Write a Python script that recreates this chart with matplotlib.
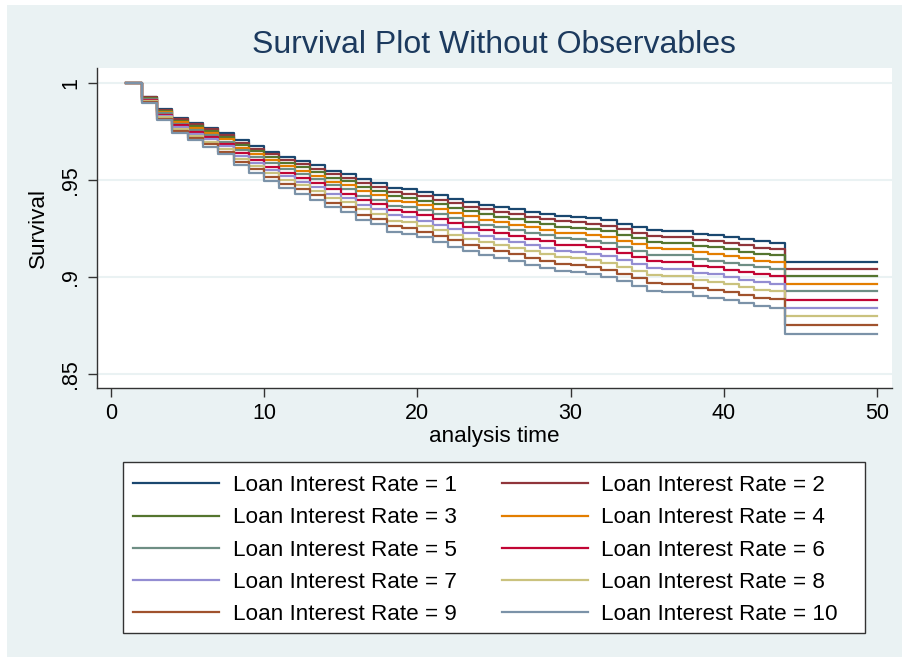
import matplotlib
matplotlib.use("Agg")
import matplotlib.pyplot as plt
from matplotlib.patches import Rectangle

plt.rcParams['font.family'] = ['Liberation Sans', 'DejaVu Sans']

# analysis time of each step (the last point only carries the flat tail to 50)
analysis_time = [1, 2, 3, 4, 5, 6, 7, 8, 9, 10,
                 11, 12, 13, 14, 15, 16, 17, 18, 19, 20,
                 21, 22, 23, 24, 25, 26, 27, 28, 29, 30,
                 31, 32, 33, 34, 35, 36, 37, 38, 39, 40,
                 41, 42, 43, 44, 50]

# survival, one list per loan interest rate
rate_1 = [1.0, .9928, .9866, .9821, .9794, .9770, .9742, .9704, .9674, .9646,
          .9619, .9598, .9576, .9548, .9531, .9503, .9486, .9459, .9452, .9438,
          .9421, .9404, .9387, .9373, .9362, .9350, .9337, .9326, .9313, .9310,
          .9302, .9292, .9275, .9258, .9241, .9237, .9237, .9222, .9215, .9205,
          .9194, .9184, .9177, .9077, .9077]
rate_2 = [1.0, .9925, .9861, .9814, .9786, .9761, .9732, .9692, .9661, .9632,
          .9604, .9582, .9559, .9530, .9512, .9483, .9466, .9438, .9430, .9416,
          .9398, .9380, .9363, .9348, .9337, .9325, .9311, .9300, .9286, .9283,
          .9275, .9264, .9247, .9229, .9211, .9207, .9207, .9192, .9184, .9174,
          .9163, .9152, .9145, .9041, .9041]
rate_3 = [1.0, .9922, .9855, .9806, .9777, .9751, .9721, .9680, .9647, .9617,
          .9588, .9565, .9542, .9511, .9493, .9463, .9444, .9415, .9408, .9393,
          .9374, .9356, .9338, .9323, .9311, .9298, .9284, .9272, .9258, .9255,
          .9246, .9235, .9217, .9199, .9180, .9176, .9176, .9160, .9153, .9142,
          .9130, .9119, .9112, .9004, .9004]
rate_4 = [1.0, .9919, .9849, .9798, .9768, .9741, .9710, .9667, .9633, .9602,
          .9572, .9548, .9523, .9492, .9473, .9441, .9422, .9392, .9384, .9369,
          .9350, .9331, .9312, .9296, .9284, .9270, .9256, .9243, .9229, .9226,
          .9217, .9206, .9186, .9168, .9149, .9144, .9144, .9127, .9120, .9108,
          .9096, .9085, .9077, .8966, .8966]
rate_5 = [1.0, .9916, .9843, .9790, .9759, .9731, .9698, .9654, .9619, .9586,
          .9554, .9530, .9504, .9472, .9452, .9419, .9399, .9368, .9360, .9344,
          .9324, .9304, .9284, .9268, .9256, .9242, .9227, .9214, .9199, .9195,
          .9186, .9174, .9155, .9135, .9115, .9111, .9111, .9093, .9085, .9074,
          .9061, .9049, .9041, .8926, .8926]
rate_6 = [1.0, .9912, .9837, .9782, .9749, .9720, .9686, .9640, .9603, .9569,
          .9537, .9511, .9485, .9451, .9430, .9396, .9376, .9343, .9335, .9318,
          .9298, .9277, .9256, .9240, .9226, .9212, .9196, .9183, .9167, .9164,
          .9154, .9142, .9122, .9101, .9081, .9076, .9076, .9058, .9050, .9038,
          .9025, .9013, .9004, .8884, .8884]
rate_7 = [1.0, .9909, .9830, .9773, .9739, .9709, .9673, .9625, .9587, .9552,
          .9518, .9492, .9464, .9429, .9408, .9372, .9351, .9317, .9309, .9291,
          .9270, .9249, .9227, .9210, .9196, .9181, .9165, .9151, .9135, .9131,
          .9121, .9109, .9088, .9066, .9045, .9040, .9040, .9022, .9013, .9001,
          .8987, .8975, .8966, .8842, .8842]
rate_8 = [1.0, .9905, .9823, .9764, .9728, .9697, .9660, .9610, .9571, .9534,
          .9499, .9472, .9443, .9406, .9384, .9348, .9326, .9291, .9281, .9263,
          .9241, .9219, .9197, .9179, .9165, .9149, .9132, .9118, .9101, .9097,
          .9087, .9074, .9052, .9030, .9008, .9003, .9003, .8984, .8975, .8962,
          .8948, .8935, .8926, .8797, .8797]
rate_9 = [1.0, .9901, .9816, .9754, .9717, .9685, .9646, .9595, .9554, .9516,
          .9479, .9451, .9421, .9383, .9360, .9322, .9299, .9263, .9253, .9234,
          .9212, .9189, .9166, .9147, .9132, .9116, .9099, .9084, .9066, .9062,
          .9052, .9038, .9016, .8993, .8970, .8965, .8965, .8945, .8935, .8922,
          .8907, .8894, .8885, .8751, .8751]
rate_10 = [1.0, .9897, .9808, .9744, .9706, .9672, .9632, .9578, .9536, .9497,
           .9459, .9429, .9398, .9359, .9335, .9295, .9272, .9234, .9224, .9204,
           .9181, .9157, .9133, .9114, .9098, .9082, .9064, .9048, .9030, .9026,
           .9015, .9001, .8977, .8954, .8930, .8925, .8925, .8904, .8894, .8881,
           .8865, .8852, .8842, .8704, .8704]

curves = [rate_1, rate_2, rate_3, rate_4, rate_5,
          rate_6, rate_7, rate_8, rate_9, rate_10]
labels = ["Loan Interest Rate = %d" % k for k in range(1, 11)]

# stata s2color palette
colors = ['#1a476f', '#90353b', '#55752f', '#e37e00', '#6e8e84',
          '#c10534', '#938dd2', '#cac27e', '#a0522d', '#7b92a8']

bg = '#eaf2f3'
W, H = 902, 661

fig = plt.figure(figsize=(9.02, 6.61), dpi=100)
fig.patches.append(Rectangle((7 / W, 4 / H), 1, 652 / H,
                             transform=fig.transFigure, facecolor=bg,
                             edgecolor='none', zorder=-10))

ax = fig.add_axes([97 / W, 273 / H, 795 / W, 320 / H])
ax.set_facecolor('white')

lines = []
for surv, c, lab in zip(curves, colors, labels):
    ln, = ax.plot(analysis_time, surv, drawstyle='steps-post', color=c,
                  lw=1.6, label=lab)
    lines.append(ln)

ax.set_xlim(-0.91, 50.98)
ax.set_ylim(0.8428, 1.0077)
ax.set_xticks([0, 10, 20, 30, 40, 50])
ax.set_yticks([0.85, 0.9, 0.95, 1.0])
ax.set_yticklabels(['.85', '.9', '.95', '1'], rotation=90, va='center')
ax.tick_params(axis='both', labelsize=15.5, color='#333333', length=6.5,
               width=1)
ax.tick_params(axis='x', pad=4)
ax.tick_params(axis='y', pad=5)
ax.grid(axis='y', color=bg, lw=1.5)
ax.set_axisbelow(True)

for side in ['top', 'right']:
    ax.spines[side].set_visible(False)
for side in ['left', 'bottom']:
    ax.spines[side].set_color('#333333')
    ax.spines[side].set_linewidth(1)

ax.set_xlabel("analysis time", fontsize=16.2, labelpad=2)
ax.set_ylabel("Survival", fontsize=16.2, labelpad=8)

fig.text(494 / W, 1 - 45 / H, "Survival Plot Without Observables",
         ha='center', va='center', fontsize=23, color='#1c3a5e')

# legend box drawn separately, stata leaves extra room on the right
fig.patches.append(Rectangle((123 / W, 1 - 633 / H), 742 / W, 171 / H,
                             transform=fig.transFigure, facecolor='white',
                             edgecolor='#333333', lw=1, zorder=1))

order = [0, 2, 4, 6, 8, 1, 3, 5, 7, 9]
leg = fig.legend([lines[i] for i in order], [labels[i] for i in order],
                 ncol=2, loc='upper left',
                 bbox_to_anchor=(123 / W, 1 - 465 / H),
                 fontsize=16.2, handlelength=3.8, handletextpad=0.62,
                 columnspacing=2.02, labelspacing=0.5, borderpad=0.45,
                 borderaxespad=0, frameon=False)
for h in leg.legend_handles:
    h.set_linewidth(1.6)

fig.savefig("out.png", dpi=100, facecolor='white')
